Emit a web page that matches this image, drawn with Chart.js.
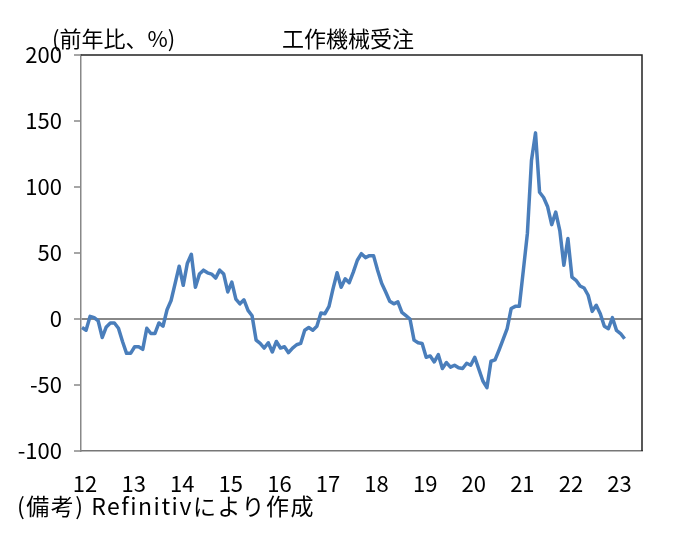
<!DOCTYPE html>
<html lang="ja">
<head>
<meta charset="utf-8">
<title>工作機械受注</title>
<script src="https://cdn.jsdelivr.net/npm/chart.js@4"></script>
<style>
  html, body { margin: 0; padding: 0; background: #fff; }
  #wrap { position: relative; width: 676px; height: 550px; }
  #wrap canvas { position: absolute; left: 0; top: 0; }
  .txt {
    position: absolute; white-space: nowrap; color: #000;
    font-family: "Noto Sans CJK JP", sans-serif;
    font-size: 22px; line-height: 22px;
  }
  #unit { left: 52px; top: 26px; }
  #title { left: 282px; top: 26px; }
  #note { left: 17px; top: 494px; font-size: 23px; letter-spacing: 1.5px; }
</style>
</head>
<body>
<div id="wrap">
  <canvas id="chart" width="676" height="550"></canvas>
  <div class="txt" id="unit">(前年比、%)</div>
  <div class="txt" id="title">工作機械受注</div>
  <div class="txt" id="note">(備考) Refinitivにより作成</div>
</div>
<script>
// monthly YoY %, Jan 2012 .. Mar 2023
const yearLabels = ["12","13","14","15","16","17","18","19","20","21","22","23"];
const orders = [
  -6.5, -8.5, 2, 1, -1.5, -14, -6, -3, -3, -7, -17, -26,          // 2012
  -26, -21, -21, -23, -7, -11, -11, -3, -5.5, 7, 14, 27,          // 2013
  40, 25.5, 42, 49, 24, 34, 37, 35, 34, 31, 37, 34,               // 2014
  20.5, 28, 15, 11.5, 14.5, 6.5, 2.5, -16, -18.5, -22, -18, -25,  // 2015
  -17, -22, -21, -25.5, -22, -19.5, -18.5, -8.5, -6.5, -8.5, -5.5, 4.5, // 2016
  4, 9.5, 23, 35, 24, 30.5, 27.5, 35.5, 44.5, 49.5, 46.5, 48,     // 2017
  48, 37, 27, 20.5, 13.5, 11.5, 13, 5, 2.5, 0, -16, -18,          // 2018
  -18.5, -29, -28, -32.5, -27, -37.5, -33, -36.5, -35, -37, -37.5, -33.5, // 2019
  -35, -29, -38, -47, -52, -32, -31, -23.5, -15.5, -7.3, 8, 9.6,  // 2020
  9.6, 37, 65, 120, 141, 96, 92, 85, 71.5, 81, 67, 40.7,          // 2021
  61, 31.8, 29.3, 25, 23.5, 18, 5.8, 10.4, 4, -5.5, -7.3, 1,      // 2022
  -8.6, -11, -15                                                  // 2023
];
const yTicks = [-100, -50, 0, 50, 100, 150, 200];

const FONT = "'Noto Sans CJK JP', sans-serif";

// frame: dark top/right edges
const frame = {
  id: "frame",
  afterDraw(chart) {
    const { ctx, chartArea: a } = chart;
    ctx.save();
    ctx.lineWidth = 1.5;
    ctx.strokeStyle = "#222";
    ctx.beginPath();
    ctx.moveTo(a.left, a.top); ctx.lineTo(a.right, a.top); ctx.lineTo(a.right, a.bottom);
    ctx.stroke();
    ctx.restore();
  }
};

new Chart(document.getElementById("chart"), {
  type: "line",
  data: {
    datasets: [{
      data: orders.map((v, i) => ({ x: i, y: v })),
      borderColor: "#4a7ebb",
      borderWidth: 3.5,
      pointRadius: 0,
      tension: 0,
      borderJoinStyle: "round",
      clip: false
    }]
  },
  options: {
    responsive: false,
    animation: false,
    layout: { padding: { left: 0, top: 55, right: 34, bottom: 0 } },
    plugins: { legend: { display: false }, tooltip: { enabled: false } },
    scales: {
      x: {
        type: "linear",
        min: -0.25, max: 138.3,
        afterBuildTicks: (s) => { s.ticks = yearLabels.map((l, k) => ({ value: 12 * k + 0.75 })); },
        afterFit: (s) => { s.height = 99; },
        ticks: {
          callback: (v, i) => yearLabels[i],
          maxRotation: 0, autoSkip: false,
          color: "#000", padding: 19,
          font: { family: FONT, size: 22 }
        },
        grid: { display: false, drawTicks: false },
        border: { display: true, color: "#777", width: 1.5 }
      },
      y: {
        min: -100, max: 200,
        afterBuildTicks: (s) => { s.ticks = yTicks.map(v => ({ value: v })); },
        afterFit: (s) => { s.width = 81; },
        ticks: {
          color: "#000", padding: 12,
          font: { family: FONT, size: 22 }
        },
        grid: {
          color: (c) => (c.tick && c.tick.value === 0 ? "#888" : "transparent"),
          lineWidth: 2,
          tickColor: "#888",
          tickLength: 7,
          tickWidth: 1.5
        },
        border: { display: true, color: "#888", width: 1.5 }
      }
    }
  },
  plugins: [frame]
});
</script>
</body>
</html>
